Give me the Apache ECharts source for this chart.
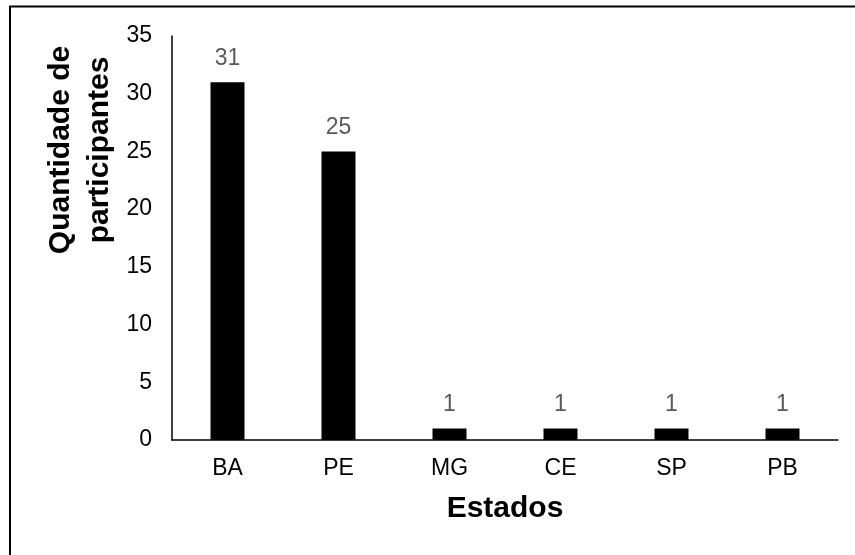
<!DOCTYPE html>
<html><head><meta charset="utf-8">
<script src="https://cdn.jsdelivr.net/npm/echarts@6/dist/echarts.min.js"></script>
<style>html,body{margin:0;padding:0;background:#fff}#c{width:855px;height:555px}</style>
</head><body><div id="c"></div>
<script>
const categories = ['BA','PE','MG','CE','SP','PB'];
const values = [31,25,1,1,1,1];
const yTicks = [0,5,10,15,20,25,30,35];
const yTitle = 'Quantidade de\nparticipantes';
const xTitle = 'Estados';
const FF = 'Liberation Sans, Arial, sans-serif';
const chart = echarts.init(document.getElementById('c'), null, {renderer:'canvas'});
chart.setOption({
  animation:false,
  backgroundColor:'#fff',
  graphic:[
    {type:'line',shape:{x1:9,y1:6.5,x2:855,y2:6.5},style:{stroke:'#000',lineWidth:2}},
    {type:'line',shape:{x1:10,y1:6,x2:10,y2:555},style:{stroke:'#000',lineWidth:2}},
    {type:'text',x:80,y:150,rotation:Math.PI/2,
      style:{text:yTitle,align:'center',verticalAlign:'middle',fill:'#000',
        font:'bold 30px '+FF,lineHeight:39}}
  ],
  grid:{left:172,right:17,top:36,bottom:115},
  xAxis:{type:'category',data:categories,
    axisLine:{lineStyle:{color:'#000',width:1.5}},axisTick:{show:false},
    axisLabel:{color:'#000',fontSize:23,fontFamily:FF,margin:17},
    name:xTitle,nameLocation:'middle',nameGap:54,
    nameTextStyle:{color:'#000',fontSize:30,fontWeight:'bold',fontFamily:FF}},
  yAxis:{type:'value',min:0,max:35,interval:5,
    axisLine:{show:true,lineStyle:{color:'#000',width:1.5}},axisTick:{show:false},splitLine:{show:false},
    axisLabel:{color:'#000',fontSize:23,fontFamily:FF,margin:20,
      formatter:function(v){return yTicks.indexOf(v)>=0?String(v):'';}}},
  series:[{type:'bar',data:values,barWidth:34,itemStyle:{color:'#000'},
    label:{show:true,position:'top',distance:12,color:'#595959',fontSize:23,fontFamily:FF}}]
});
</script></body></html>
